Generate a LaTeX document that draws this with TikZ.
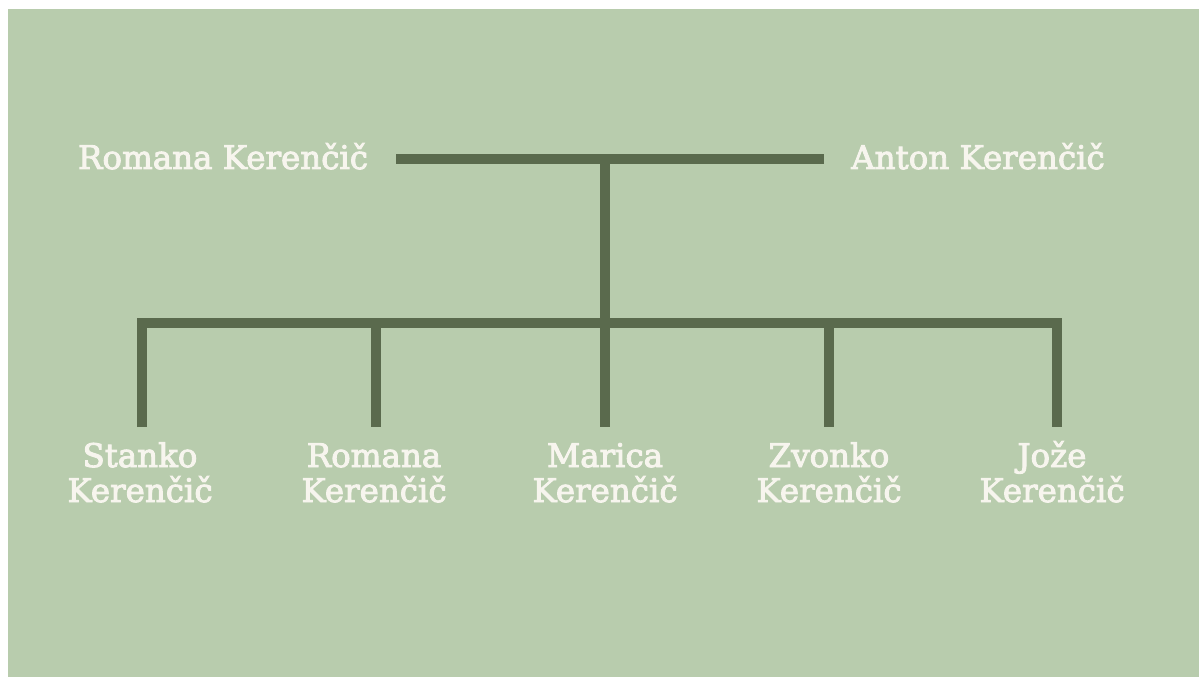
\documentclass[tikz,border=0pt]{standalone}
\usepackage{fontspec}
\setmainfont{DejaVu Serif}
\definecolor{bgreen}{HTML}{B8CCAD}
\definecolor{lgreen}{HTML}{5A6A4D}
\definecolor{ltext}{HTML}{F7F5EE}
\newcommand{\heavytext}{\special{pdf:literal direct 2 Tr 0.9 w}}
\begin{document}
\begin{tikzpicture}[x=1pt,y=-1pt,
  person/.style={text=ltext,inner sep=0pt,align=center,anchor=base,
    font=\fontsize{32.5}{35}\selectfont\heavytext},
  bar/.style={draw=lgreen,line width=10pt,line cap=butt,line join=miter}]
\useasboundingbox (0,0) rectangle (1200,679);
\fill[white] (0,0) rectangle (1200,679);
\fill[bgreen] (8,9) rectangle (1199,677);
% parents
\node[person] (p1) at (223,169) {Romana Kerenčič};
\node[person] (p2) at (978,169) {Anton Kerenčič};
% children
\node[person] (c1) at (140,502) {Stanko\\Kerenčič};
\node[person] (c2) at (374,502) {Romana\\Kerenčič};
\node[person] (c3) at (605,502) {Marica\\Kerenčič};
\node[person] (c4) at (829,502) {Zvonko\\Kerenčič};
\node[person] (c5) at (1052,502) {Jože\\Kerenčič};
% junctions
\coordinate (tl) at (396,159);
\coordinate (tr) at (824,159);
\coordinate (tm) at (605,159);
\coordinate (bm) at (605,322.5);
\coordinate (b1) at (142,322.5);
\coordinate (b2) at (376,322.5);
\coordinate (b4) at (829,322.5);
\coordinate (b5) at (1057,322.5);
\coordinate (d1) at (142,427);
\coordinate (d2) at (376,427);
\coordinate (d3) at (605,427);
\coordinate (d4) at (829,427);
\coordinate (d5) at (1057,427);
% connectors
\draw[bar] (tl) -- (tr);
\draw[bar] (tm) -- (bm);
\draw[bar] (d1) -- (b1) -- (b5) -- (d5);
\draw[bar] (b2) -- (d2);
\draw[bar] (bm) -- (d3);
\draw[bar] (b4) -- (d4);
\end{tikzpicture}
\end{document}
